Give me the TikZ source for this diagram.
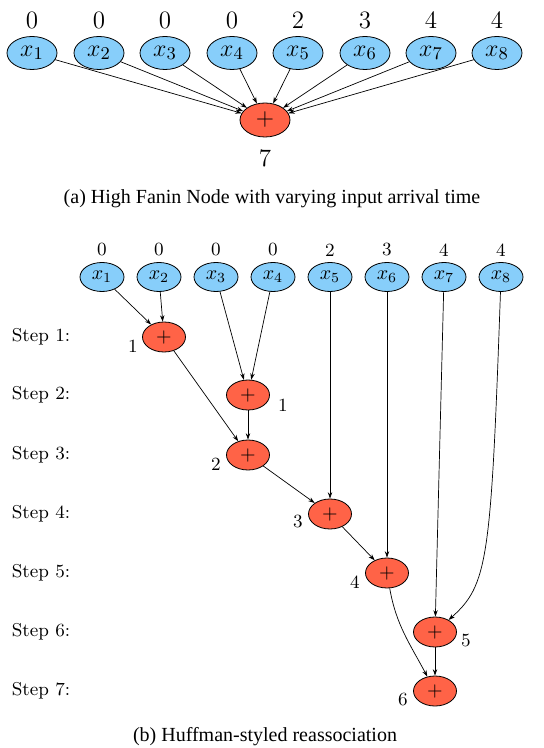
\documentclass[tikz,border=0pt]{standalone}
\usepackage{fontspec}
\usepackage{amsmath}
\newfontfamily\captionfont{Liberation Serif}
\usetikzlibrary{shapes,arrows,arrows.meta,positioning}
\definecolor{inputblue}{RGB}{135,206,250}
\definecolor{addred}{RGB}{255,99,71}

\begin{document}
\begin{tikzpicture}[
    x=0.5pt,y=0.5pt,
    >={Stealth[length=3.2pt,width=2.2pt]},
    bigin/.style={draw,fill=inputblue,ellipse,inner sep=0pt,minimum width=25pt,minimum height=16.5pt,font=\fontsize{13}{15}\selectfont},
    bigadd/.style={draw,fill=addred,ellipse,inner sep=0pt,minimum width=25pt,minimum height=17pt,font=\fontsize{13}{15}\selectfont},
    bignum/.style={draw=none,font=\fontsize{12.5}{14}\selectfont},
    smallin/.style={draw,fill=inputblue,ellipse,inner sep=0pt,minimum width=22pt,minimum height=14.5pt,font=\fontsize{10}{12}\selectfont},
    smalladd/.style={draw,fill=addred,ellipse,inner sep=0pt,minimum width=21.5pt,minimum height=15pt,font=\fontsize{10}{12}\selectfont},
    smallnum/.style={draw=none,font=\fontsize{9.3}{11}\selectfont},
    caption/.style={draw=none,font=\captionfont\fontsize{10}{12}\selectfont},
    edge/.style={->,line width=0.35pt},
]
\useasboundingbox (0,0) rectangle (543,-748);

% (a) high fanin node
\foreach \i/\x in {1/32,2/99,3/165,4/232,5/298,6/365,7/431,8/497} {
    \node[bigin] (a\i) at (\x,-53) {$x_{\i}$};
}
\node[bignum] (at1) at (32,-20) {0};
\node[bignum] (at2) at (99,-20) {0};
\node[bignum] (at3) at (165,-20) {0};
\node[bignum] (at4) at (232,-20) {0};
\node[bignum] (at5) at (298,-20) {2};
\node[bignum] (at6) at (365,-20) {3};
\node[bignum] (at7) at (431,-20) {4};
\node[bignum] (at8) at (497,-20) {4};

\node[bigadd] (asum) at (265,-120) {$+$};
\node[bignum] (asumt) at (265,-158) {7};

\foreach \i in {1,...,8}
    \draw[edge] (a\i) -- (asum);

\node[caption] (capa) at (272,-199) {(a) High Fanin Node with varying input arrival time};

% (b) Huffman-styled reassociation
\foreach \i/\x in {1/102,2/159,3/216,4/273,5/330,6/387,7/444,8/501} {
    \node[smallin] (b\i) at (\x,-277) {$x_{\i}$};
}
\node[smallnum] (bt1) at (102,-250) {0};
\node[smallnum] (bt2) at (159,-250) {0};
\node[smallnum] (bt3) at (216,-250) {0};
\node[smallnum] (bt4) at (273,-250) {0};
\node[smallnum] (bt5) at (330,-250) {2};
\node[smallnum] (bt6) at (387,-250) {3};
\node[smallnum] (bt7) at (444,-250) {4};
\node[smallnum] (bt8) at (501,-250) {4};

% step labels
\node[smallnum] (step1) at (41,-337) {Step 1:};
\node[smallnum] (step2) at (41,-395) {Step 2:};
\node[smallnum] (step3) at (41,-455) {Step 3:};
\node[smallnum] (step4) at (41,-514) {Step 4:};
\node[smallnum] (step5) at (41,-573) {Step 5:};
\node[smallnum] (step6) at (41,-632) {Step 6:};
\node[smallnum] (step7) at (41,-691) {Step 7:};

% adders
\node[smalladd] (s1) at (164,-337) {$+$};
\node[smalladd] (s2) at (248,-395) {$+$};
\node[smalladd] (s3) at (248,-455) {$+$};
\node[smalladd] (s4) at (330,-514) {$+$};
\node[smalladd] (s5) at (387,-573) {$+$};
\node[smalladd] (s6) at (435,-632) {$+$};
\node[smalladd] (s7) at (435,-691) {$+$};

% arrival times of the adders
\node[smallnum] (st1) at (133,-346) {1};
\node[smallnum] (st2) at (283,-405) {1};
\node[smallnum] (st3) at (216,-464) {2};
\node[smallnum] (st4) at (298,-522) {3};
\node[smallnum] (st5) at (355,-582) {4};
\node[smallnum] (st6) at (466,-641) {5};
\node[smallnum] (st7) at (403,-700) {6};

% connections
\draw[edge] (b1) -- (s1);
\draw[edge] (b2) -- (s1);
\draw[edge] (b3) -- (s2);
\draw[edge] (b4) -- (s2);
\draw[edge] (s1) -- (s3);
\draw[edge] (s2) -- (s3);
\draw[edge] (s3) -- (s4);
\draw[edge] (b5) -- (s4);
\draw[edge] (s4) -- (s5);
\draw[edge] (b6) -- (s5);
\draw[edge] (b7) -- (s6);
\draw[edge] (b8) .. controls (491,-560) and (488,-585) .. (s6);
\draw[edge] (s5) to[out=-80,in=118] (s7);
\draw[edge] (s6) -- (s7);

\node[caption] (capb) at (265,-737) {(b) Huffman-styled reassociation};

\end{tikzpicture}
\end{document}
